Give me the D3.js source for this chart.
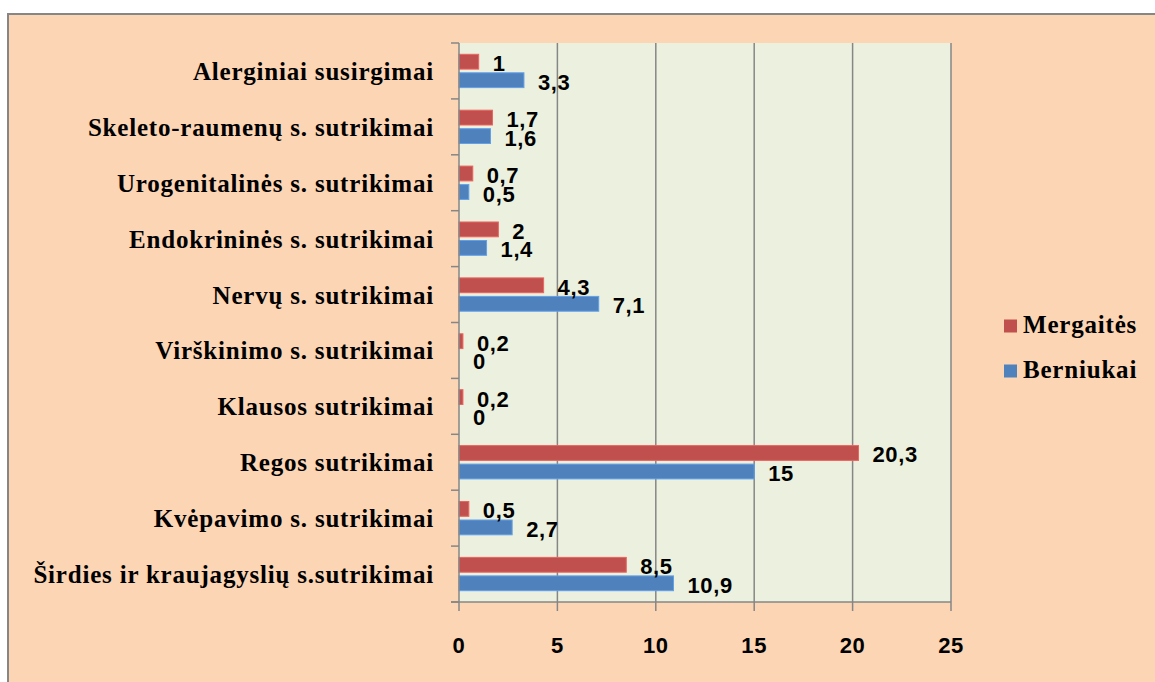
<!DOCTYPE html>
<html lang="lt">
<head>
  <meta charset="UTF-8">
  <title>Sutrikimai</title>
  <script src="https://d3js.org/d3.v7.min.js"></script>
  <style>
    body { margin: 0; background: #ffffff; }
    .cat { font-family: "Liberation Serif", "Times New Roman", serif; font-weight: bold; font-size: 25px; letter-spacing: 0.8px; fill: #000; }
    .legend text { font-family: "Liberation Serif", "Times New Roman", serif; font-weight: bold; font-size: 25px; letter-spacing: 0.8px; fill: #000; }
    .val, .tick-lbl { font-family: "Liberation Sans", Arial, sans-serif; font-weight: bold; font-size: 22px; letter-spacing: 0.6px; fill: #000; }
  </style>
</head>
<body>
<script>
// kategorijos (is virsaus i apacia)
var categories = [
  "Alerginiai susirgimai",
  "Skeleto-raumenų s. sutrikimai",
  "Urogenitalinės s. sutrikimai",
  "Endokrininės s. sutrikimai",
  "Nervų s. sutrikimai",
  "Virškinimo s. sutrikimai",
  "Klausos sutrikimai",
  "Regos sutrikimai",
  "Kvėpavimo s. sutrikimai",
  "Širdies ir kraujagyslių s.sutrikimai"
];
var mergaites = [1, 1.7, 0.7, 2, 4.3, 0.2, 0.2, 20.3, 0.5, 8.5];
var berniukai = [3.3, 1.6, 0.5, 1.4, 7.1, 0, 0, 15, 2.7, 10.9];
var seriesNames = ["Mergaitės", "Berniukai"];
var seriesColors = ["#C0504D", "#4F81BD"];
var xTicks = [0, 5, 10, 15, 20, 25];

var W = 1155, H = 682;
var plot = {left: 459, right: 951, top: 43, bottom: 602};

var svg = d3.select("body").append("svg")
  .attr("width", W)
  .attr("height", H);

// fonas
svg.append("rect")
  .attr("x", 8).attr("y", 14)
  .attr("width", W + 10).attr("height", H + 10)
  .attr("fill", "#FCD5B5")
  .attr("stroke", "#868686")
  .attr("stroke-width", 2);

svg.append("rect")
  .attr("x", plot.left).attr("y", plot.top)
  .attr("width", plot.right - plot.left)
  .attr("height", plot.bottom - plot.top)
  .attr("fill", "#EBF1DE");

var x = d3.scaleLinear().domain([0, 25]).range([plot.left, plot.right]);
var y = d3.scaleBand().domain(categories).range([plot.top, plot.bottom]).padding(0);
var sub = d3.scaleBand().domain(seriesNames).range([0, y.bandwidth()])
  .paddingInner(0.2).paddingOuter(0.61);

// tinklelis
svg.selectAll(".grid").data(xTicks.slice(1)).enter()
  .append("line")
  .attr("x1", function(d) { return x(d); })
  .attr("x2", function(d) { return x(d); })
  .attr("y1", plot.top).attr("y2", plot.bottom)
  .attr("stroke", "#868686").attr("stroke-width", 1.5);

// stulpeliai
var rows = categories.map(function(c, i) {
  return {cat: c, values: [mergaites[i], berniukai[i]]};
});

var groups = svg.selectAll(".row").data(rows).enter()
  .append("g")
  .attr("transform", function(d) { return "translate(0," + y(d.cat) + ")"; });

groups.selectAll("rect").data(function(d) {
  return d.values.map(function(v, j) { return {v: v, s: seriesNames[j], c: seriesColors[j]}; });
}).enter()
  .append("rect")
  .attr("x", x(0))
  .attr("y", function(d) { return sub(d.s); })
  .attr("width", function(d) { return x(d.v) - x(0); })
  .attr("height", sub.bandwidth())
  .attr("fill", function(d) { return d.c; })
  .attr("stroke", function(d) { return d3.color(d.c).brighter(0.6); })
  .attr("stroke-width", function(d) { return d.v > 0 ? 1 : 0; });

// reiksmiu etiketes
groups.selectAll(".val").data(function(d) {
  return d.values.map(function(v, j) { return {v: v, s: seriesNames[j]}; });
}).enter()
  .append("text")
  .attr("class", "val")
  .attr("x", function(d) { return x(d.v) + 14; })
  .attr("y", function(d) { return sub(d.s) + sub.bandwidth() / 2 + 9.5; })
  .text(function(d) { return String(d.v).replace(".", ","); });

// asys
svg.append("line")
  .attr("x1", plot.left).attr("x2", plot.left)
  .attr("y1", plot.top).attr("y2", plot.bottom)
  .attr("stroke", "#868686").attr("stroke-width", 1.5);
svg.append("line")
  .attr("x1", plot.left - 8).attr("x2", plot.right)
  .attr("y1", plot.bottom).attr("y2", plot.bottom)
  .attr("stroke", "#868686").attr("stroke-width", 1.5);

var bounds = categories.map(function(c) { return y(c); }).concat([plot.bottom]);
svg.selectAll(".ytick").data(bounds).enter()
  .append("line")
  .attr("x1", plot.left - 8).attr("x2", plot.left)
  .attr("y1", function(d) { return d; }).attr("y2", function(d) { return d; })
  .attr("stroke", "#868686").attr("stroke-width", 1.5);

svg.selectAll(".xtick").data(xTicks).enter()
  .append("line")
  .attr("x1", function(d) { return x(d); }).attr("x2", function(d) { return x(d); })
  .attr("y1", plot.bottom).attr("y2", plot.bottom + 9)
  .attr("stroke", "#868686").attr("stroke-width", 1.5);

svg.selectAll(".tick-lbl").data(xTicks).enter()
  .append("text")
  .attr("class", "tick-lbl")
  .attr("x", function(d) { return x(d); })
  .attr("y", plot.bottom + 51)
  .attr("text-anchor", "middle")
  .text(function(d) { return d; });

svg.selectAll(".cat").data(categories).enter()
  .append("text")
  .attr("class", "cat")
  .attr("x", plot.left - 25)
  .attr("y", function(d) { return y(d) + y.bandwidth() / 2 + 9; })
  .attr("text-anchor", "end")
  .text(function(d) { return d; });

// legenda
var legend = svg.append("g").attr("class", "legend");
seriesNames.forEach(function(name, i) {
  var ly = 326 + i * 45;
  legend.append("rect")
    .attr("x", 1004).attr("y", ly - 6.5)
    .attr("width", 13).attr("height", 13)
    .attr("fill", seriesColors[i]);
  legend.append("text")
    .attr("x", 1023).attr("y", ly + 7)
    .text(name);
});
</script>
</body>
</html>
